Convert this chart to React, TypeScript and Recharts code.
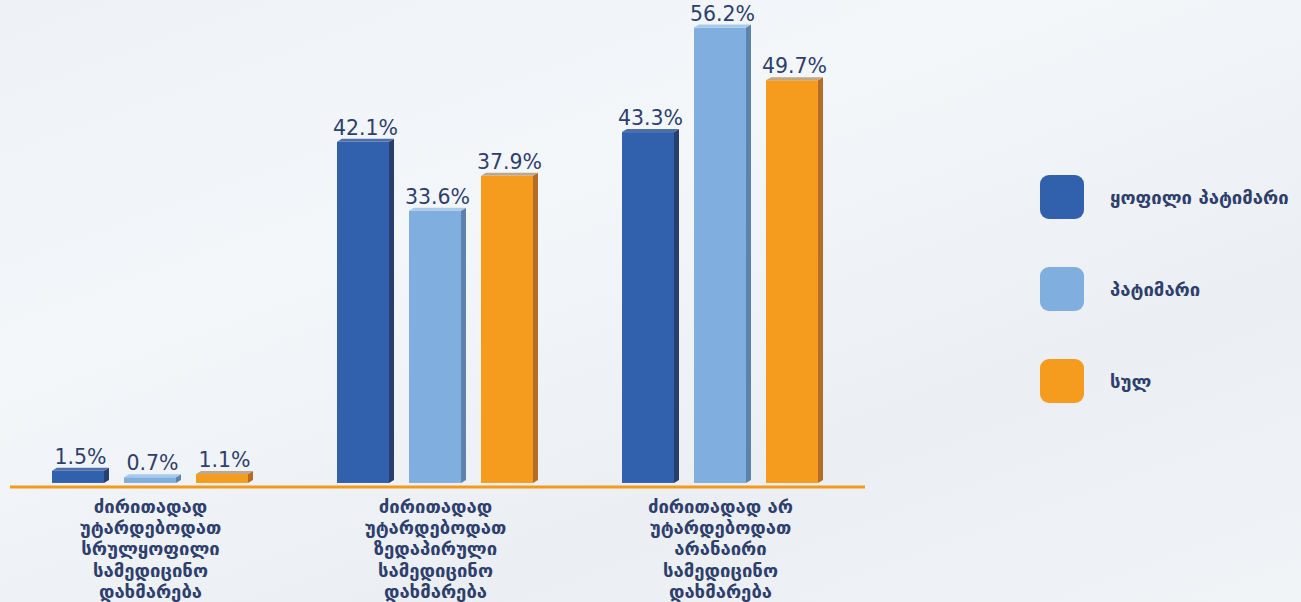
import { BarChart, Bar, XAxis, YAxis, LabelList } from 'recharts'

const categories = [
  'ძირითადად\nუტარდებოდათ\nსრულყოფილი\nსამედიცინო\nდახმარება',
  'ძირითადად\nუტარდებოდათ\nზედაპირული\nსამედიცინო\nდახმარება',
  'ძირითადად არ\nუტარდებოდათ\nარანაირი\nსამედიცინო\nდახმარება',
]
const formerPrisoner = [1.5, 42.1, 43.3]
const prisoner = [0.7, 33.6, 56.2]
const total = [1.1, 37.9, 49.7]

const seriesNames = ['ყოფილი პატიმარი', 'პატიმარი', 'სულ']

const data = categories.map((name, i) => ({
  name,
  former: formerPrisoner[i],
  prisoner: prisoner[i],
  total: total[i],
}))

const series = [
  { key: 'former', name: seriesNames[0], face: '#3161ad', side: '#263f6e', top: '#4f6ea8' },
  { key: 'prisoner', name: seriesNames[1], face: '#80aedf', side: '#5d82ab', top: '#a9c9ea' },
  { key: 'total', name: seriesNames[2], face: '#f59c1e', side: '#b56d25', top: '#bfa88a' },
]

const textColor = '#2e3f6d'
const DEPTH_X = 5
const DEPTH_Y = 3

function makeShape(face: string, side: string, top: string) {
  return (props: any) => {
    const { x, y, width, height } = props
    if (width == null || height == null) return null
    const w = width - DEPTH_X
    return (
      <g>
        <rect x={x} y={y} width={w} height={height} fill={face} />
        <polygon
          points={`${x + w},${y} ${x + width},${y - DEPTH_Y} ${x + width},${y + height - DEPTH_Y} ${x + w},${y + height}`}
          fill={side}
        />
        <polygon
          points={`${x},${y} ${x + DEPTH_X},${y - DEPTH_Y} ${x + width},${y - DEPTH_Y} ${x + w},${y}`}
          fill={top}
        />
      </g>
    )
  }
}

const ValueLabel = (props: any) => {
  const { x, y, width, value } = props
  return (
    <text
      x={x + width / 2}
      y={y - 7}
      textAnchor="middle"
      fill={textColor}
      fontSize={20.5}
      fontFamily="DejaVu Sans, sans-serif"
    >
      {`${value}%`}
    </text>
  )
}

const CategoryTick = (props: any) => {
  const { x, y, payload } = props
  const lines = String(payload.value).split('\n')
  return (
    <text
      x={x - 2}
      y={y}
      textAnchor="middle"
      fill={textColor}
      fontSize={18.5}
      fontWeight="bold"
      fontFamily="DejaVu Sans, sans-serif"
    >
      {lines.map((line, i) => (
        <tspan key={i} x={x - 2} y={y + 26 + i * 21.2}>
          {line}
        </tspan>
      ))}
    </text>
  )
}

const LegendBox = () => (
  <div style={{ position: 'absolute', left: 1040, top: 175 }}>
    {series.map((s) => (
      <div
        key={s.key}
        style={{ display: 'flex', alignItems: 'center', height: 44, marginBottom: 48 }}
      >
        <div style={{ width: 44, height: 44, borderRadius: 9, background: s.face }} />
        <span
          style={{
            marginLeft: 26,
            color: textColor,
            fontSize: 18.5,
            fontWeight: 'bold',
            fontFamily: 'DejaVu Sans, sans-serif',
            whiteSpace: 'nowrap',
          }}
        >
          {s.name}
        </span>
      </div>
    ))}
  </div>
)

export default function App() {
  return (
    <div
      style={{
        position: 'fixed',
        left: 0,
        top: 0,
        width: 1301,
        height: 602,
        background: 'linear-gradient(160deg, #eef1f5 0%, #f4f7fa 35%, #ebeef2 70%, #f1f4f7 100%)',
        overflow: 'hidden',
      }}
    >
      <BarChart
        width={1301}
        height={602}
        data={data}
        margin={{ top: 13, right: 436, bottom: 0, left: 10 }}
        barSize={57}
        barGap={15}
      >
        <XAxis
          dataKey="name"
          height={115}
          interval={0}
          tickLine={false}
          tickSize={0}
          tickMargin={0}
          axisLine={{ stroke: '#f39a1c', strokeWidth: 3 }}
          tick={<CategoryTick />}
        />
        <YAxis hide domain={[-0.5, 58]} />
        {series.map((s) => (
          <Bar
            key={s.key}
            dataKey={s.key}
            name={s.name}
            fill={s.face}
            isAnimationActive={false}
            shape={makeShape(s.face, s.side, s.top)}
          >
            <LabelList dataKey={s.key} content={<ValueLabel />} />
          </Bar>
        ))}
      </BarChart>
      <LegendBox />
    </div>
  )
}
